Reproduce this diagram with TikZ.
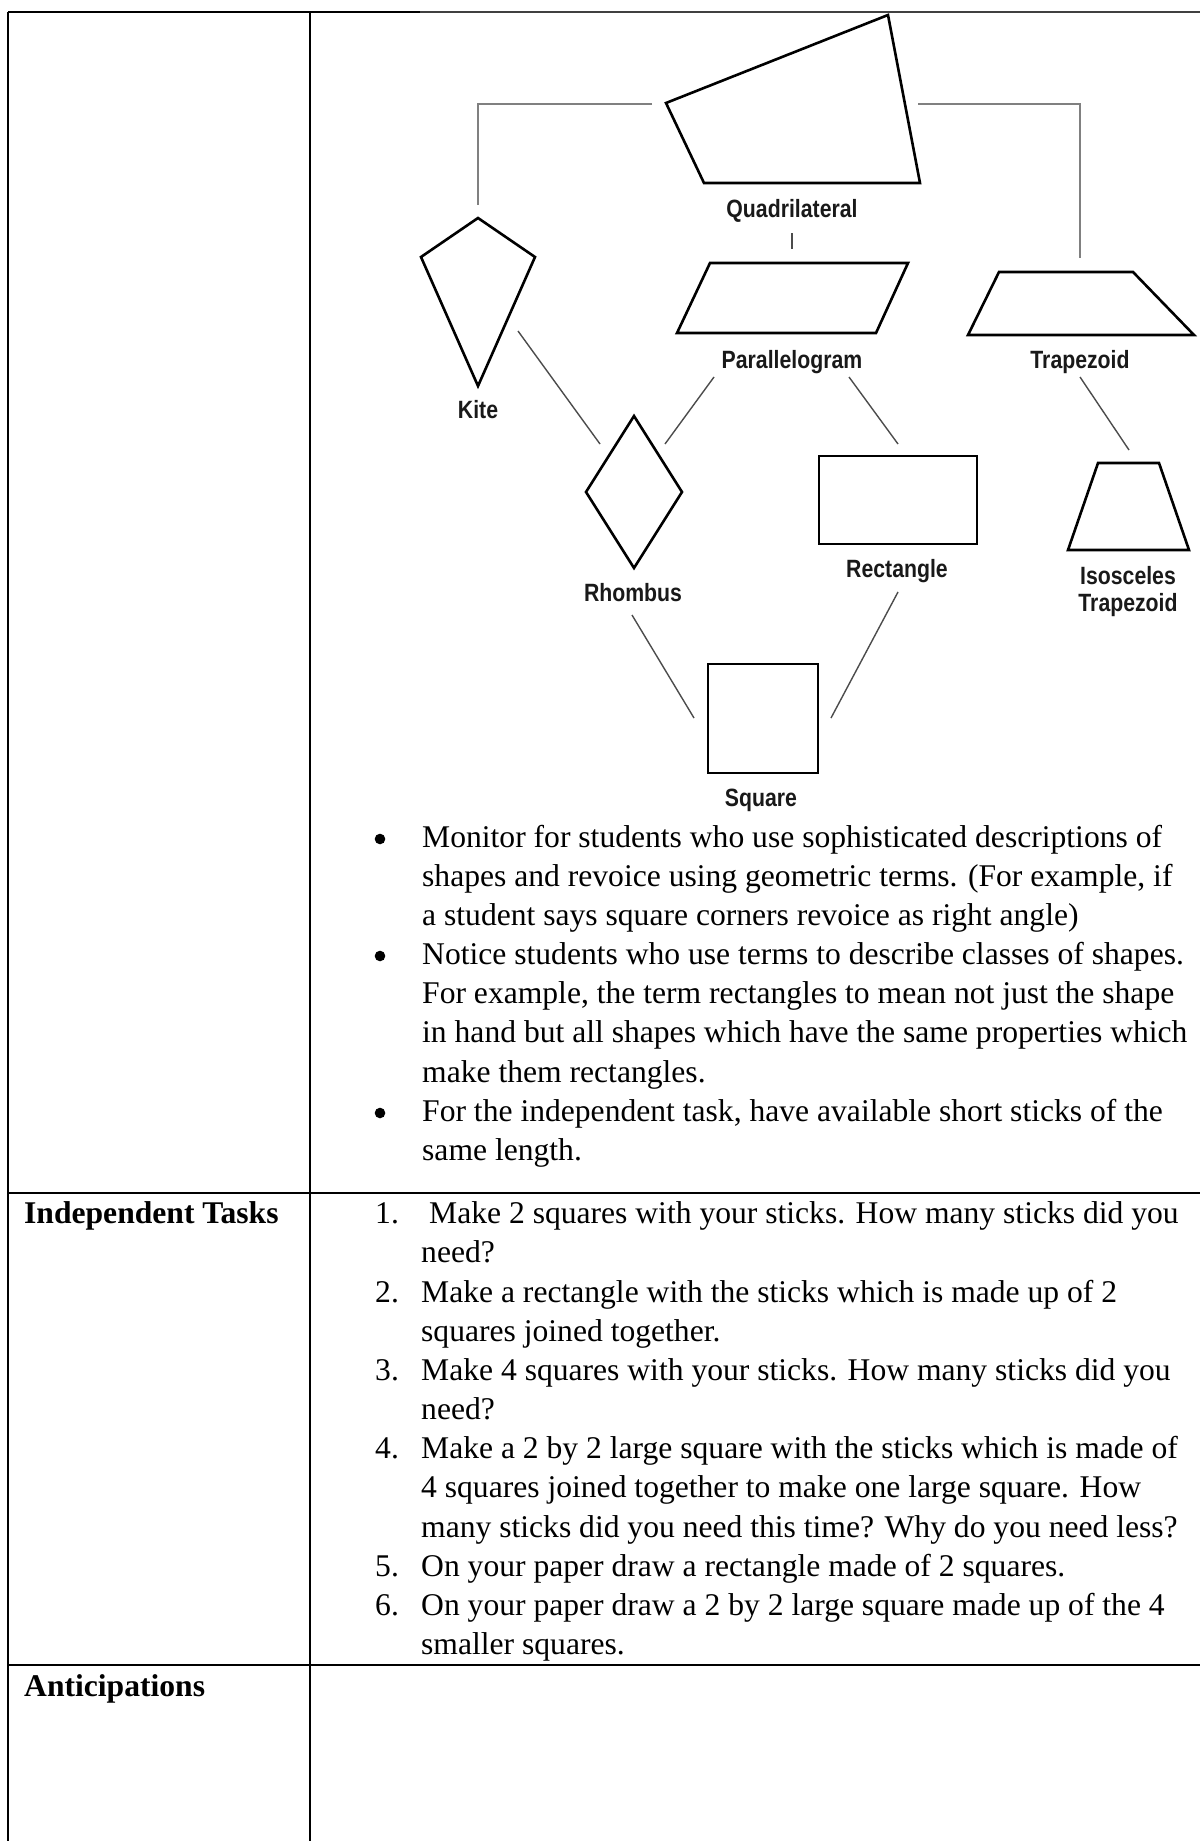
\documentclass[tikz,border=0pt]{standalone}
\usepackage{fontspec}
\setmainfont{Liberation Serif}
\newfontfamily\lblfont[FakeStretch=0.85]{Liberation Sans}
\begin{document}
\begin{tikzpicture}[x=1pt,y=-1pt,
  tline/.style={line width=2.2pt,black},
  imgedge/.style={line width=1.2pt,black!75},
  shp/.style={line width=2.6pt,black,line join=miter},
  conn/.style={line width=1.4pt,black!70},
  elb/.style={line width=2pt,black!50},
  lbl/.style={font={\lblfont\bfseries\fontsize{25}{28}\selectfont},inner sep=0pt,text=black!90,anchor=base},
  body/.style={font={\fontsize{31.6}{39}\selectfont},anchor=base west,inner sep=0pt},
  bodyb/.style={font={\bfseries\fontsize{31.6}{39}\selectfont},anchor=base west,inner sep=0pt},
  bulletdot/.style={fill=black}]
\useasboundingbox (0,0) rectangle (1200,1841);
\fill[white] (0,0) rectangle (1200,1841);

% ---------- table grid ----------
\coordinate (tl) at (8,12);
\coordinate (tm) at (310,12);
\coordinate (tbreak) at (420,12);
\coordinate (tr) at (1200,12);
\coordinate (bl) at (8,1841);
\coordinate (bm) at (310,1841);
\coordinate (r1l) at (8,1193);
\coordinate (r1r) at (1200,1193);
\coordinate (r2l) at (8,1665);
\coordinate (r2r) at (1200,1665);
\draw[tline] (tl) -- (tbreak);
\draw[imgedge] (tbreak) -- (tr);
\draw[tline] (tl) -- (bl);
\draw[tline] (tm) -- (bm);
\draw[tline] (r1l) -- (r1r);
\draw[tline] (r2l) -- (r2r);

% ---------- shapes ----------
% Quadrilateral
\draw[shp] (666,103) -- (888,15) -- (920,183) -- (704,183) -- cycle;
\node[lbl] (lquad) at (792,217) {Quadrilateral};
% Parallelogram
\draw[shp] (710,263) -- (908,263) -- (876,333) -- (677,333) -- cycle;
\node[lbl] (lpar) at (792,368) {Parallelogram};
% Trapezoid
\draw[shp] (999,272) -- (1133,272) -- (1194,335) -- (968,335) -- cycle;
\node[lbl] (ltrap) at (1080,368) {Trapezoid};
% Kite
\draw[shp] (478,218) -- (535,257) -- (478,386) -- (421,257) -- cycle;
\node[lbl] (lkite) at (478,418) {Kite};
% Rhombus
\draw[shp] (634,416) -- (682,492) -- (634,568) -- (586,492) -- cycle;
\node[lbl] (lrhom) at (633,601) {Rhombus};
% Rectangle
\draw[shp] (819,456) rectangle (977,544);
\node[lbl] (lrect) at (897,577) {Rectangle};
% Square
\draw[shp] (708,664) rectangle (818,773);
\node[lbl] (lsq) at (761,806) {Square};
% Isosceles trapezoid
\draw[shp] (1098,463) -- (1159,463) -- (1189,550) -- (1068,550) -- cycle;
\node[lbl] (liso1) at (1128,584) {Isosceles};
\node[lbl] (liso2) at (1128,611) {Trapezoid};

% ---------- connectors ----------
\coordinate (qL) at (652,104);
\coordinate (qLc) at (478,104);
\coordinate (kT) at (478,205);
\coordinate (qR) at (918,104);
\coordinate (qRc) at (1080,104);
\coordinate (tT) at (1080,258);
\draw[elb] (qL) -- (qLc) -- (kT);
\draw[elb] (qR) -- (qRc) -- (tT);

\coordinate (qB) at (792,233);
\coordinate (pT) at (792,249);
\draw[conn] (qB) -- (pT);

\coordinate (kR) at (518,331);
\coordinate (rhL) at (600,444);
\draw[conn] (kR) -- (rhL);

\coordinate (pBL) at (714,377);
\coordinate (rhR) at (665,444);
\draw[conn] (pBL) -- (rhR);

\coordinate (pBR) at (849,377);
\coordinate (reT) at (898,444);
\draw[conn] (pBR) -- (reT);

\coordinate (trB) at (1080,377);
\coordinate (isT) at (1129,450);
\draw[conn] (trB) -- (isT);

\coordinate (rhB) at (632,615);
\coordinate (sqL) at (694,718);
\draw[conn] (rhB) -- (sqL);

\coordinate (reB) at (898,592);
\coordinate (sqR) at (831,718);
\draw[conn] (reB) -- (sqR);

% ---------- bullet text ----------
\coordinate (b1) at (380,839);
\coordinate (b2) at (380,956);
\coordinate (b3) at (380,1113);
\fill[bulletdot] (b1) circle (5.3);
\fill[bulletdot] (b2) circle (5.3);
\fill[bulletdot] (b3) circle (5.3);
\node[body] (t1) at (422,847) {Monitor for students who use sophisticated descriptions of};
\node[body] (t2) at (422,886) {shapes and revoice using geometric terms. (For example, if};
\node[body] (t3) at (422,925) {a student says square corners revoice as right angle)};
\node[body] (t4) at (422,964) {Notice students who use terms to describe classes of shapes.};
\node[body] (t5) at (422,1003) {For example, the term rectangles to mean not just the shape};
\node[body] (t6) at (422,1042) {in hand but all shapes which have the same properties which};
\node[body] (t7) at (422,1082) {make them rectangles.};
\node[body] (t8) at (422,1121) {For the independent task, have available short sticks of the};
\node[body] (t9) at (422,1160) {same length.};

% ---------- independent tasks ----------
\node[bodyb] (hind) at (24,1223) {Independent Tasks};
\node[body] (n1) at (375,1223) {1.};
\node[body] (n2) at (375,1302) {2.};
\node[body] (n3) at (375,1380) {3.};
\node[body] (n4) at (375,1458) {4.};
\node[body] (n5) at (375,1576) {5.};
\node[body] (n6) at (375,1615) {6.};
\node[body] (i1) at (429,1223) {Make 2 squares with your sticks. How many sticks did you};
\node[body] (i1b) at (421,1262) {need?};
\node[body] (i2) at (421,1302) {Make a rectangle with the sticks which is made up of 2};
\node[body] (i2b) at (421,1341) {squares joined together.};
\node[body] (i3) at (421,1380) {Make 4 squares with your sticks. How many sticks did you};
\node[body] (i3b) at (421,1419) {need?};
\node[body] (i4) at (421,1458) {Make a 2 by 2 large square with the sticks which is made of};
\node[body] (i4b) at (421,1497) {4 squares joined together to make one large square. How};
\node[body] (i4c) at (421,1537) {many sticks did you need this time? Why do you need less?};
\node[body] (i5) at (421,1576) {On your paper draw a rectangle made of 2 squares.};
\node[body] (i6) at (421,1615) {On your paper draw a 2 by 2 large square made up of the 4};
\node[body] (i6b) at (421,1654) {smaller squares.};

% ---------- anticipations ----------
\node[bodyb] (hant) at (24,1696) {Anticipations};
\end{tikzpicture}
\end{document}
